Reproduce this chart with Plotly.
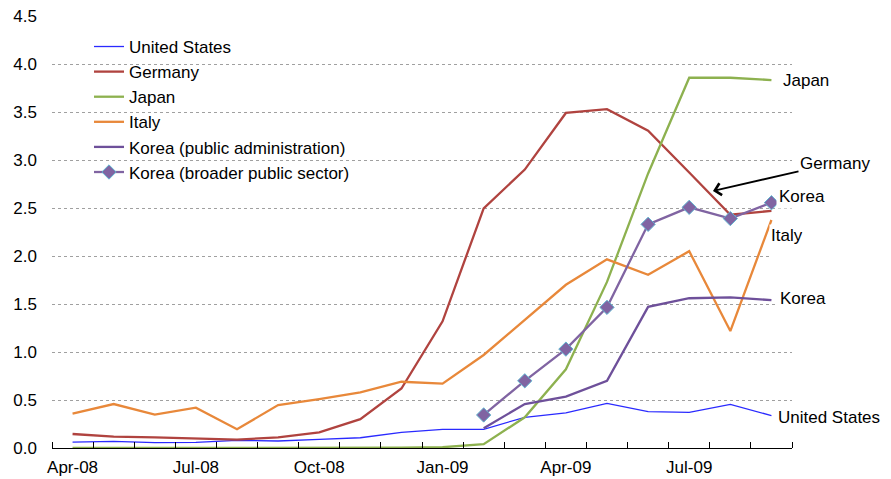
import plotly.graph_objects as go

months = ["Apr-08", "May-08", "Jun-08", "Jul-08", "Aug-08", "Sep-08", "Oct-08", "Nov-08", "Dec-08",
          "Jan-09", "Feb-09", "Mar-09", "Apr-09", "May-09", "Jun-09", "Jul-09", "Aug-09", "Sep-09"]
tick_labels = ["Apr-08", "Jul-08", "Oct-08", "Jan-09", "Apr-09", "Jul-09"]

united_states = [0.062, 0.07, 0.056, 0.059, 0.08, 0.073, 0.09, 0.107, 0.163, 0.195, 0.195, 0.32,
                 0.365, 0.465, 0.378, 0.372, 0.455, 0.337]
germany = [0.146, 0.118, 0.11, 0.097, 0.087, 0.111, 0.163, 0.30, 0.62, 1.32, 2.497, 2.90,
           3.49, 3.53, 3.305, 2.87, 2.43, 2.47]
japan = [0.0, 0.0, 0.0, 0.0, 0.0, 0.0, 0.0, 0.0, 0.003, 0.008, 0.04, 0.32,
         0.82, 1.73, 2.86, 3.857, 3.857, 3.833]
italy = [0.357, 0.458, 0.347, 0.42, 0.195, 0.448, 0.51, 0.58, 0.69, 0.67, 0.969, 1.33,
         1.70, 1.965, 1.805, 2.05, 1.218, 2.375]
korea_admin = [None] * 10 + [0.205, 0.458, 0.535, 0.70, 1.47, 1.56, 1.57, 1.54]
korea_broad = [None] * 10 + [0.344, 0.70, 1.03, 1.465, 2.33, 2.507, 2.39, 2.555]

x = list(range(len(months)))
tickvals = [months.index(t) for t in tick_labels]

fig = go.Figure()
series = [
    ("United States", united_states, "#2a2aff", 1.3, None),
    ("Germany", germany, "#b0433f", 2.3, None),
    ("Japan", japan, "#8db14f", 2.3, None),
    ("Italy", italy, "#e8883a", 2.3, None),
    ("Korea (public administration)", korea_admin, "#6e509a", 2.3, None),
    ("Korea (broader public sector)", korea_broad, "#8064a2", 2.3, "diamond"),
]
for i, (name, vals, color, w, sym) in enumerate(series):
    kw = dict(mode="lines")
    if sym:
        kw = dict(mode="lines+markers",
                  marker=dict(symbol=sym, size=11, color=color, line=dict(color="#5fb4d0", width=1)))
    fig.add_trace(go.Scatter(x=x, y=vals, name=name, line=dict(color=color, width=w),
                             legendgroup=str(i), **kw))

font = "Liberation Sans, Arial, sans-serif"
ann = []
def xd(px):
    return (px - 52) / (740 / 18) - 0.5
def yd(py):
    return (448 - py) / 96

ann.append(dict(x=xd(781), y=yd(80), text="Japan", xanchor="left", showarrow=False))
ann.append(dict(x=xd(776), y=yd(196), text="Korea", xanchor="left", showarrow=False,
                bgcolor="white", borderpad=2))
ann.append(dict(x=xd(769), y=yd(235), text="Italy", xanchor="left", yanchor="top", showarrow=False,
                bgcolor="white", height=36, valign="top", yshift=11))
ann.append(dict(x=xd(776), y=yd(298), text="Korea", xanchor="left", showarrow=False,
                bgcolor="white", borderpad=3))
ann.append(dict(x=xd(776), y=yd(417), text="United States", xanchor="left", showarrow=False))
ann.append(dict(x=xd(713), y=yd(191), ax=xd(835), ay=yd(163), axref="x", ayref="y",
                text="Germany", showarrow=True, arrowhead=4, arrowsize=1.3, arrowwidth=1.8,
                arrowcolor="black"))
for a in ann:
    a["font"] = dict(family=font, size=17, color="black")
    a.setdefault("xref", "x")
    a.setdefault("yref", "y")

fig.update_layout(
    width=891, height=479,
    margin=dict(l=52, r=99, t=16, b=31, autoexpand=False),
    paper_bgcolor="white", plot_bgcolor="white",
    font=dict(family=font, size=17, color="black"),
    showlegend=True,
    legend=dict(x=0.05, y=0.97, xanchor="left", yanchor="top", bgcolor="rgba(0,0,0,0)",
                font=dict(size=17), tracegroupgap=0, borderwidth=0),
    annotations=ann,
    xaxis=dict(range=[-0.5, 17.5], tickmode="array", tickvals=tickvals, ticktext=tick_labels,
               ticks="", showgrid=False, zeroline=False, showline=True, linecolor="black",
               linewidth=1, tickfont=dict(size=17), automargin=False, ticklabelstandoff=4,
               minor=dict(tick0=-0.5, dtick=1, ticks="inside", ticklen=6, tickcolor="black",
                          tickwidth=1, showgrid=False)),
    yaxis=dict(range=[0, 4.5], tickmode="linear", tick0=0, dtick=0.5, tickformat=".1f",
               showgrid=True, gridcolor="#a0a0a0", griddash="3px,3px", gridwidth=1,
               zeroline=False, showline=False, ticks="", tickfont=dict(size=17),
               ticklabelstandoff=14, automargin=False),
)

fig.write_html("out.html", config={"displayModeBar": False},
               post_script="document.body.style.margin='0';document.body.style.overflow='hidden';")
